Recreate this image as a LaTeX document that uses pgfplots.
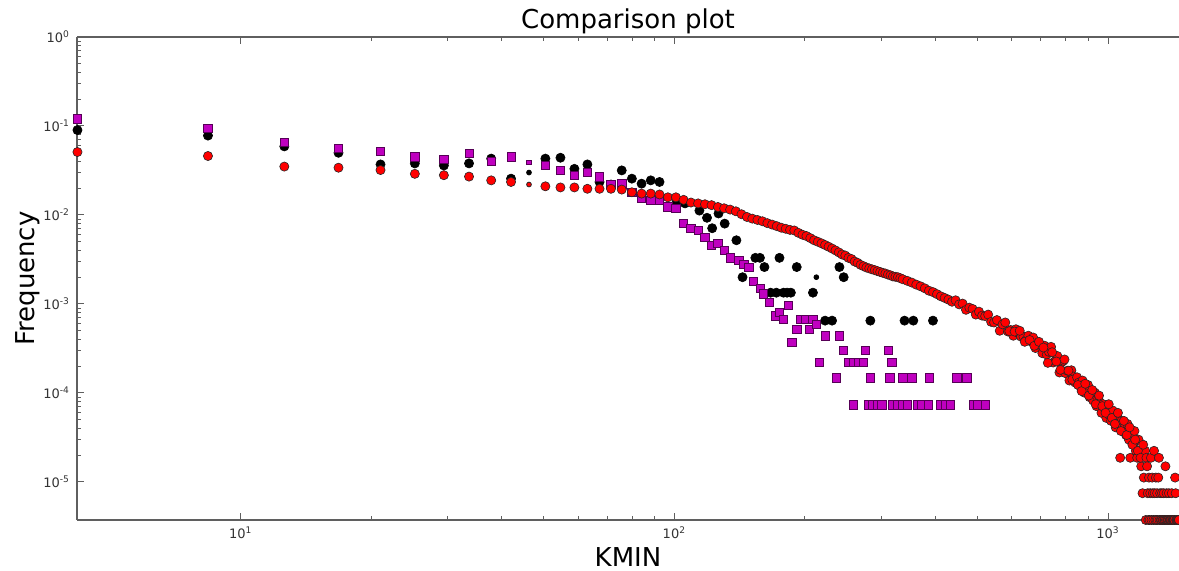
\documentclass[border=0pt]{standalone}
\usepackage{fontspec}
\setmainfont{DejaVu Sans}
\usepackage{pgfplots}
\pgfplotsset{compat=1.18}
\definecolor{mplmag}{RGB}{191,0,191}
\definecolor{mplred}{RGB}{255,0,0}
\definecolor{spine}{RGB}{95,95,95}

\begin{document}
\begin{tikzpicture}
\begin{axis}[
  scale only axis, width=551pt, height=241.5pt,
  xmode=log, ymode=log,
  xmin=4.19, xmax=1458, ymin=3.74e-6, ymax=1,
  axis y line*=left,
  axis line style={-, spine, line width=0.9pt},
  tick align=inside,
  major tick length=3.5pt, minor tick length=1.8pt,
  every tick/.style={spine, line width=0.5pt},
  xtick={10,100,1000},
  xticklabels={10\textsuperscript{1},10\textsuperscript{2},10\textsuperscript{3}},
  ytick={1e-5,1e-4,1e-3,1e-2,1e-1,1},
  yticklabels={10\textsuperscript{-5},10\textsuperscript{-4},10\textsuperscript{-3},10\textsuperscript{-2},10\textsuperscript{-1},10\textsuperscript{0}},
  ticklabel style={font=\fontsize{6.5}{7}\selectfont, text=black!80},
  title={Comparison plot},
  every axis title shift=0pt,
  title style={at={(axis description cs:0.5,1.0186)}, anchor=base, inner sep=0pt, font=\fontsize{13}{15}\selectfont},
  xlabel={KMIN},
  xlabel style={at={(axis description cs:0.5,-0.056)}, anchor=north, inner sep=0pt, font=\fontsize{13}{15}\selectfont},
  ylabel={Frequency},
  ylabel style={at={(axis description cs:-0.039,0.5)}, anchor=base, inner sep=0pt, font=\fontsize{13}{15}\selectfont},
]
% black series
\addplot[only marks, mark=*, mark size=2.3pt, mark options={fill=black, draw=black, line width=0.3pt}] coordinates {
(4.2,0.090)(8.4,0.078)(12.6,0.059)(16.8,0.050)(21.0,0.037)(25.2,0.038)(29.4,0.036)(33.6,0.038)
(37.8,0.043)(42.0,0.0256)(50.4,0.043)(54.6,0.044)(58.8,0.033)(63.0,0.037)(67.2,0.0235)
(71.4,0.022)(75.6,0.0317)(79.8,0.0256)(84.0,0.0225)(88.2,0.0245)(92.4,0.0235)
(101.2,0.0140)(105.8,0.0135)(114.2,0.0112)(118.9,0.0093)(122.2,0.0071)(126.4,0.0104)
(130.6,0.0080)(139.0,0.0052)(143.6,0.0020)(153.7,0.0033)(157.5,0.0033)(161.3,0.0026)
(166.7,0.00134)(171.8,0.00134)(174.7,0.0033)(178.5,0.00134)(181.9,0.00134)(185.6,0.00134)
(191.5,0.0026)(208.7,0.00134)(222.6,6.5e-4)(231.0,6.5e-4)(240.2,0.0026)(245.7,0.0020)
(283.1,6.5e-4)(339.4,6.5e-4)(355.7,6.5e-4)(394.8,6.5e-4)
};
\addplot[only marks, mark=*, mark size=1.2pt, mark options={fill=black, draw=black}] coordinates {
(46.2,0.030)(212.5,0.0020)
};
% purple series
\addplot[only marks, mark=square*, mark size=2.1pt, mark options={fill=mplmag, draw=black!55!mplmag, line width=0.3pt}] coordinates {
(4.2,0.12)(8.4,0.094)(12.6,0.066)(16.8,0.056)(21.0,0.052)(25.2,0.045)(29.4,0.042)(33.6,0.049)
(37.8,0.040)(42.0,0.045)(50.4,0.036)(54.6,0.032)(58.8,0.028)(63.0,0.030)(67.2,0.027)
(71.4,0.022)(75.6,0.0225)(79.8,0.018)(84.0,0.0153)(88.2,0.0146)(92.4,0.0146)(96.6,0.0123)
(100.8,0.0118)(105.0,0.0081)(109.2,0.0071)(113.4,0.0067)(117.6,0.0056)(121.8,0.0046)
(126.0,0.0048)(130.2,0.0040)(134.4,0.0033)(140.7,0.0031)(144.5,0.0028)(148.3,0.0026)
(152.0,0.0018)(157.9,0.0015)(160.4,0.0013)(165.5,0.00104)(170.9,7.4e-4)(174.7,8.1e-4)
(178.5,6.7e-4)(183.1,9.6e-4)(186.5,3.7e-4)(191.5,5.2e-4)(194.9,6.7e-4)(200.3,6.7e-4)
(204.5,5.2e-4)(208.7,6.7e-4)(212.5,5.9e-4)(215.9,2.2e-4)(222.6,4.4e-4)(236.5,1.48e-4)
(240.2,4.4e-4)(245.3,3.0e-4)(252.0,2.2e-4)(258.7,2.2e-4)(258.7,7.4e-5)(265.4,2.2e-4)
(272.6,2.2e-4)(275.5,3.0e-4)(279.7,7.4e-5)(282.7,1.48e-4)(286.4,7.4e-5)(293.6,7.4e-5)
(300.7,7.4e-5)(311.2,3.0e-4)(314.2,1.48e-4)(317.5,2.2e-4)(318.8,7.4e-5)(327.2,7.4e-5)
(335.6,7.4e-5)(336.4,1.48e-4)(344.4,7.4e-5)(352.8,1.48e-4)(362.9,7.4e-5)(371.0,7.4e-5)
(384.7,7.4e-5)(386.8,1.48e-4)(409.9,7.4e-5)(421.3,7.4e-5)(432.6,7.4e-5)(447.7,1.48e-4)
(472.9,1.48e-4)(488.9,7.4e-5)(499.8,7.4e-5)(520.4,7.4e-5)
};
\addplot[only marks, mark=square*, mark size=1.1pt, mark options={fill=mplmag, draw=black!55!mplmag}] coordinates {
(46.2,0.039)
};
% red series
\addplot[only marks, mark=*, mark size=2.3pt, mark options={fill=mplred, draw=black!85, line width=0.3pt}] coordinates {
(4.2,0.051)(8.4,0.046)(12.6,0.035)(16.8,0.034)(21.0,0.032)(25.2,0.029)(29.4,0.028)(33.6,0.027)
(37.8,0.0245)(42.0,0.0235)(50.4,0.021)(54.6,0.0204)(58.8,0.0204)(63.0,0.0197)(67.2,0.0197)
(71.4,0.0197)(75.6,0.0193)(79.8,0.018)(84.0,0.0174)(88.2,0.0174)(92.4,0.017)(96.6,0.0158)
(100.8,0.0158)(105.0,0.0148)(109.2,0.0138)(113.4,0.0135)(117.6,0.0132)(121.8,0.0129)
(126.0,0.0123)(130.2,0.0119)(134.4,0.0115)(138.6,0.0110)(142.8,0.0102)(147.0,0.0095)
(151.2,0.0091)(155.4,0.0088)(159.6,0.0085)(163.8,0.0081)(168.0,0.0078)(172.2,0.0075)
(176.4,0.0072)(180.6,0.0070)(184.8,0.0068)(189.0,0.0067)(193.2,0.0063)(197.4,0.0060)
(201.6,0.0058)(205.8,0.0055)(210.0,0.0052)(214.2,0.0050)(218.4,0.0048)(222.6,0.0046)
(226.8,0.0044)(231.0,0.0042)(235.2,0.0040)(239.4,0.0038)(243.6,0.0036)(247.8,0.0035)
(252.0,0.0033)(256.2,0.0032)(260.4,0.0030)(264.6,0.0029)(268.8,0.00275)(273.0,0.00266)
(277.2,0.00257)(281.4,0.00251)(285.6,0.00245)(289.8,0.0024)(294.0,0.00234)(298.2,0.00229)
(302.4,0.00224)(306.6,0.0022)(310.8,0.00214)(315.0,0.0021)(319.2,0.00204)(323.4,0.00202)
(327.6,0.0020)(331.8,0.00195)(336.0,0.0019)(344.4,0.00182)(352.8,0.00174)(361.2,0.00165)
(369.6,0.00158)(378.0,0.0015)(386.4,0.00141)(394.8,0.00136)(403.2,0.00129)(411.6,0.00122)
(420.0,0.00117)(428.4,0.00112)(436.8,0.00106)(445.2,0.00110)(453.6,0.00099)(462.0,0.00101)
(470.4,0.00086)(478.8,0.00091)(487.2,0.00088)(495.6,0.00076)(504.0,0.00082)(512.4,0.00074)
(520.8,0.00073)(529.2,0.00076)(537.6,0.00063)(546.0,0.00062)(554.4,0.00066)(562.8,0.00050)
(571.2,0.00059)(579.6,0.00062)(588.0,0.00049)(596.4,0.00051)(604.8,0.00044)(613.2,0.00052)
(621.6,0.00047)(630.0,0.00043)(638.4,0.00043)(646.8,0.00039)(655.2,0.00044)(663.6,0.00038)
(672.0,0.00042)(680.4,0.00032)(688.8,0.00035)(697.2,0.00035)(705.6,0.00028)(714.0,0.00034)
(722.4,0.00027)(730.8,0.00029)(739.2,0.00033)(747.6,0.00022)(756.0,0.00023)(764.4,0.00026)
(772.8,0.00017)(781.2,0.00022)(789.6,0.00023)(798.0,0.000167)(806.4,0.000178)(814.8,0.000138)
(823.2,0.00018)(831.6,0.000153)(840.0,0.000131)
(592.2,0.000495)(609.0,0.00049)(625.8,0.00050)(642.6,0.000376)(659.4,0.000394)(676.2,0.000339)
(693.0,0.000376)(709.8,0.000324)(726.6,0.000218)(743.4,0.000287)(760.2,0.000226)(777.0,0.000182)
(793.8,0.000238)(810.6,0.000178)(827.4,0.000141)
(848.4,1.50e-4)(856.8,1.31e-4)(865.2,1.16e-4)(873.6,1.38e-4)(882.0,1.01e-4)(890.4,1.08e-4)
(898.8,1.23e-4)(907.2,8.98e-5)(915.6,9.72e-5)(924.0,8.23e-5)(932.4,1.01e-4)(940.8,7.11e-5)
(949.2,8.60e-5)(957.6,7.85e-5)(966.0,5.98e-5)(974.4,7.48e-5)(982.8,6.73e-5)(991.2,5.24e-5)
(999.6,7.11e-5)(1008.0,5.61e-5)(1016.4,4.86e-5)(1024.8,6.36e-5)(1033.2,5.24e-5)(1041.6,4.11e-5)
(1050.0,5.61e-5)(1058.4,4.49e-5)(1066.8,1.87e-5)(1075.2,4.86e-5)(1083.6,3.74e-5)(1092.0,4.11e-5)
(1100.4,3.37e-5)(1108.8,4.49e-5)(1117.2,2.99e-5)(1125.6,1.87e-5)(1134.0,3.37e-5)(1142.4,2.62e-5)
(1150.8,3.74e-5)(1159.2,2.24e-5)(1167.6,1.87e-5)(1176.0,2.99e-5)(1184.4,2.24e-5)(1192.8,1.50e-5)
(1201.2,7.48e-6)(1209.6,1.12e-5)(1218.0,2.24e-5)
(852.6,1.23e-4)(869.4,1.05e-4)(886.2,1.27e-4)(903.0,9.35e-5)(919.8,1.08e-4)(936.6,7.48e-5)
(953.4,9.35e-5)(970.2,7.11e-5)(987.0,5.98e-5)(1003.8,7.48e-5)(1020.6,5.24e-5)(1037.4,4.49e-5)
(1054.2,5.98e-5)(1071.0,3.74e-5)(1087.8,4.86e-5)(1104.6,3.37e-5)(1121.4,4.11e-5)(1138.2,2.62e-5)
(1155.0,2.99e-5)(1171.8,2.24e-5)(1188.6,1.87e-5)(1205.4,2.62e-5)
(1222.2,3.74e-6)(1226.4,1.87e-5)(1230.6,1.50e-5)(1234.8,7.48e-6)(1239.0,3.74e-6)(1243.2,1.12e-5)
(1247.4,3.74e-6)(1251.6,7.48e-6)(1255.8,1.87e-5)(1260.0,3.74e-6)(1264.2,1.12e-5)(1268.4,7.48e-6)
(1272.6,3.74e-6)(1276.8,2.24e-5)(1281.0,7.48e-6)(1285.2,3.74e-6)(1289.4,1.12e-5)(1293.6,3.74e-6)
(1297.8,7.48e-6)(1302.0,3.74e-6)(1306.2,1.12e-5)(1310.4,1.87e-5)(1314.6,3.74e-6)(1318.8,7.48e-6)
(1323.0,3.74e-6)(1327.2,3.74e-6)(1331.4,7.48e-6)(1335.6,3.74e-6)(1339.8,3.74e-6)(1344.0,7.48e-6)
(1348.2,3.74e-6)(1352.4,3.74e-6)(1356.6,1.50e-5)(1360.8,3.74e-6)(1365.0,7.48e-6)(1369.2,3.74e-6)
(1373.4,3.74e-6)(1377.6,3.74e-6)(1381.8,7.48e-6)(1386.0,3.74e-6)(1390.2,3.74e-6)(1394.4,3.74e-6)
(1398.6,3.74e-6)(1402.8,7.48e-6)(1407.0,3.74e-6)(1411.2,3.74e-6)(1415.4,3.74e-6)(1419.6,3.74e-6)
(1423.8,3.74e-6)(1428.0,1.12e-5)(1432.2,7.48e-6)(1436.4,3.74e-6)(1440.6,3.74e-6)(1444.8,3.74e-6)
(1449.0,3.74e-6)(1453.2,3.74e-6)(1457.4,3.74e-6)
};
\addplot[only marks, mark=*, mark size=1.2pt, mark options={fill=mplred, draw=black!85}] coordinates {
(46.2,0.022)
};
\end{axis}
\pgfresetboundingbox
\path ([shift={(-38.5pt,-25.5pt)}]current axis.south west) rectangle ([shift={(0pt,18.5pt)}]current axis.north east);
\end{tikzpicture}
\end{document}
